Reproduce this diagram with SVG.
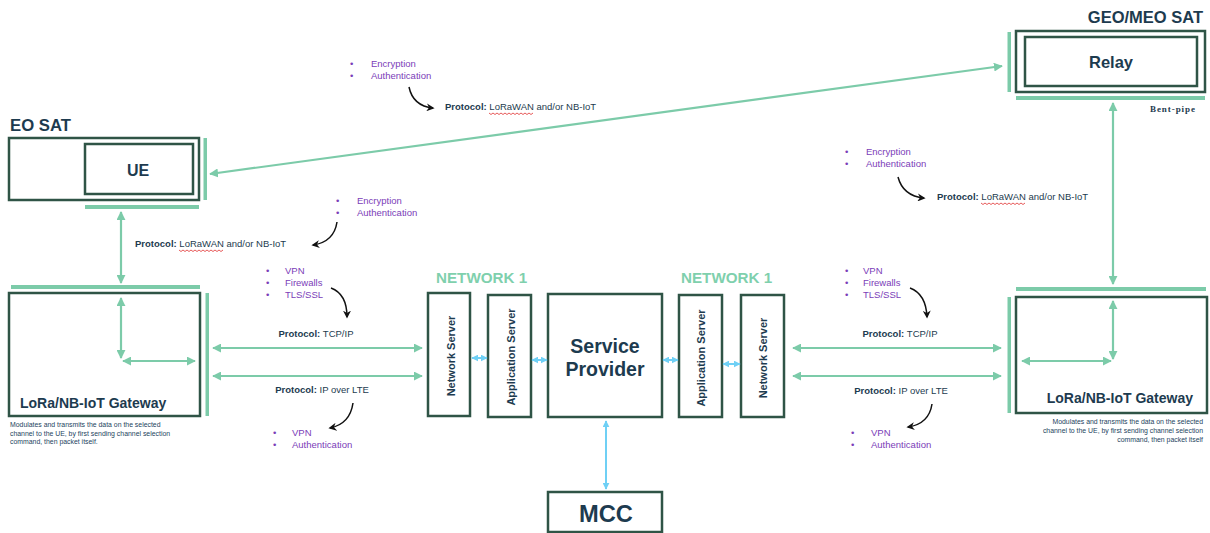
<svg xmlns="http://www.w3.org/2000/svg" width="1210" height="533" viewBox="0 0 1210 533">
  <defs>
    <style>
      .box { fill: #ffffff; stroke: #2f5446; stroke-width: 2.5; }
      .bar { fill: #7ccba9; }
      .title { font-family: "Liberation Sans", Arial, sans-serif; font-weight: bold; fill: #1d3b4f; }
      .net { font-family: "Liberation Sans", Arial, sans-serif; font-weight: bold; fill: #7fd0ad; font-size: 15.2px; }
      .lbl { font-family: "Liberation Sans", Arial, sans-serif; font-size: 9.5px; fill: #1d3b4f; }
      .lbl .b { font-weight: bold; }
      .bul { font-family: "Liberation Sans", Arial, sans-serif; font-size: 9.5px; fill: #7b3db8; }
      .desc { font-family: "Liberation Sans", Arial, sans-serif; font-size: 6.9px; fill: #24435e; }
      .vt { font-family: "Liberation Sans", Arial, sans-serif; font-weight: bold; font-size: 11px; fill: #1d3b4f; }
      .g { stroke: #7ccba9; stroke-width: 2.2; fill: none; marker-start: url(#ga); marker-end: url(#ga); }
      .bl { stroke: #6fd0f5; stroke-width: 2; fill: none; marker-start: url(#ba); marker-end: url(#ba); }
      .cv { stroke: #111111; stroke-width: 1.5; fill: none; marker-end: url(#ka); }
      .sq { stroke: #e03030; stroke-width: 0.8; fill: none; }
    </style>
    <marker id="ga" viewBox="0 0 10 10" refX="9" refY="5" markerWidth="9" markerHeight="9" markerUnits="userSpaceOnUse" orient="auto-start-reverse">
      <path d="M0,0 L10,5 L0,10 Z" fill="#7ccba9"/>
    </marker>
    <marker id="ba" viewBox="0 0 10 10" refX="9" refY="5" markerWidth="7" markerHeight="7" markerUnits="userSpaceOnUse" orient="auto-start-reverse">
      <path d="M0,0 L10,5 L0,10 Z" fill="#6fd0f5"/>
    </marker>
    <marker id="ka" viewBox="0 0 10 10" refX="8" refY="5" markerWidth="8" markerHeight="8" markerUnits="userSpaceOnUse" orient="auto">
      <path d="M0,0 L10,5 L0,10 L3,5 Z" fill="#111111"/>
    </marker>
  </defs>

  <rect width="1210" height="533" fill="#ffffff"/>

  <!-- EO satellite carrying the UE -->
  <g id="eo-sat">
    <text class="title" x="10" y="131" font-size="16.7">EO SAT</text>
    <rect class="box" x="9" y="138" width="190" height="62"/>
    <rect class="bar" x="203.5" y="138" width="3.5" height="62"/>
    <rect class="bar" x="85" y="205" width="114" height="4"/>
  </g>
  <g id="ue">
    <rect class="box" x="85" y="144" width="108" height="50"/>
    <text class="title" x="138" y="176" font-size="16" text-anchor="middle">UE</text>
  </g>

  <!-- GEO/MEO relay satellite -->
  <g id="relay">
    <text class="title" x="1203" y="23" font-size="16.5" text-anchor="end">GEO/MEO SAT</text>
    <rect class="box" x="1016" y="31" width="189" height="61"/>
    <rect class="box" x="1025" y="37" width="172" height="49"/>
    <text class="title" x="1111" y="68" font-size="16.5" text-anchor="middle">Relay</text>
    <rect class="bar" x="1007.5" y="32" width="3.5" height="60"/>
    <rect class="bar" x="1016" y="96" width="189" height="4"/>
    <text x="1150" y="112" font-family="'Liberation Serif', 'Times New Roman', serif" font-weight="bold" font-size="9" fill="#1d3b4f" textLength="45">Bent-pipe</text>
  </g>

  <!-- Left gateway -->
  <g id="gateway-left">
    <rect class="bar" x="11" y="285" width="189" height="4"/>
    <rect class="box" x="9" y="293" width="191" height="123"/>
    <rect class="bar" x="205.5" y="293" width="3.5" height="123"/>
    <text class="title" x="20" y="408" font-size="14">LoRa/NB-IoT Gateway</text>
    <text class="desc" x="10" y="427">Modulates and transmits the data on the selected</text>
    <text class="desc" x="10" y="436">channel to the UE, by first sending channel selection</text>
    <text class="desc" x="10" y="444">command, then packet itself.</text>
  </g>

  <!-- Right gateway -->
  <g id="gateway-right">
    <rect class="bar" x="1016" y="287" width="190" height="4"/>
    <rect class="box" x="1016" y="297" width="191" height="116"/>
    <rect class="bar" x="1007.5" y="297" width="3.5" height="116"/>
    <text class="title" x="1193" y="403" font-size="14" text-anchor="end">LoRa/NB-IoT Gateway</text>
    <text class="desc" x="1203" y="424" text-anchor="end">Modulates and transmits the data on the selected</text>
    <text class="desc" x="1203" y="433" text-anchor="end">channel to the UE, by first sending channel selection</text>
    <text class="desc" x="1203" y="442" text-anchor="end">command, then packet itself</text>
  </g>

  <!-- Core network -->
  <text class="net" x="436" y="283">NETWORK 1</text>
  <text class="net" x="681" y="283">NETWORK 1</text>

  <g id="network-server-left">
    <rect class="box" x="428" y="293" width="42" height="123"/>
    <text class="vt" transform="translate(451,356) rotate(-90)" x="0" y="4" text-anchor="middle">Network Server</text>
  </g>
  <g id="app-server-left">
    <rect class="box" x="488" y="295" width="43" height="122"/>
    <text class="vt" transform="translate(511,357) rotate(-90)" x="0" y="4" text-anchor="middle">Application Server</text>
  </g>
  <g id="service-provider">
    <rect class="box" x="548" y="294" width="114" height="123"/>
    <text class="title" x="605" y="353" font-size="19.5" text-anchor="middle">Service</text>
    <text class="title" x="605" y="376" font-size="19.5" text-anchor="middle">Provider</text>
  </g>
  <g id="app-server-right">
    <rect class="box" x="679" y="295" width="43" height="122"/>
    <text class="vt" transform="translate(701,358) rotate(-90)" x="0" y="4" text-anchor="middle">Application Server</text>
  </g>
  <g id="network-server-right">
    <rect class="box" x="741" y="295" width="43" height="122"/>
    <text class="vt" transform="translate(763,358) rotate(-90)" x="0" y="4" text-anchor="middle">Network Server</text>
  </g>
  <g id="mcc">
    <rect class="box" x="548" y="492" width="114" height="40"/>
    <text class="title" x="606" y="522" font-size="23.7" text-anchor="middle">MCC</text>
  </g>

  <!-- Connectors -->
  <g id="connectors">
    <line class="g" x1="1002" y1="66" x2="210" y2="174"/>
    <line class="g" x1="121" y1="212" x2="121" y2="283"/>
    <line class="g" x1="1113" y1="103" x2="1113" y2="284"/>
    <!-- in-gateway routing -->
    <line class="g" x1="121" y1="298" x2="121" y2="358"/>
    <line class="g" x1="123" y1="361" x2="195" y2="361"/>
    <line class="g" x1="1113" y1="301" x2="1113" y2="359"/>
    <line class="g" x1="1022" y1="361" x2="1111" y2="361"/>
    <!-- backhaul links -->
    <line class="g" x1="213" y1="348" x2="422" y2="348"/>
    <line class="g" x1="213" y1="376" x2="422" y2="376"/>
    <line class="g" x1="793" y1="348" x2="1001" y2="348"/>
    <line class="g" x1="793" y1="376" x2="1001" y2="376"/>
    <!-- server chain -->
    <line class="bl" x1="472" y1="358" x2="487" y2="358"/>
    <line class="bl" x1="532" y1="360" x2="547" y2="360"/>
    <line class="bl" x1="663" y1="360" x2="678" y2="360"/>
    <line class="bl" x1="723" y1="364" x2="740" y2="364"/>
    <line class="bl" x1="606" y1="421" x2="606" y2="489"/>
    <!-- annotation pointers -->
    <path class="cv" d="M409,87 Q413,106 433,108"/>
    <path class="cv" d="M898,177 Q903,196 924,198"/>
    <path class="cv" d="M337,222 Q334,242 313,245"/>
    <path class="cv" d="M331,288 Q347,294 347,317"/>
    <path class="cv" d="M910,288 Q926,294 927,317"/>
    <path class="cv" d="M353,403 Q350,424 330,428"/>
    <path class="cv" d="M932,404 Q929,424 908,427"/>
  </g>

  <!-- Annotations -->
  <g id="annotations">
    <text class="bul" x="350" y="67">•</text><text class="bul" x="371" y="67">Encryption</text>
    <text class="bul" x="350" y="79">•</text><text class="bul" x="371" y="79">Authentication</text>
    <text class="lbl" x="445" y="110"><tspan class="b">Protocol: </tspan>LoRaWAN and/or NB-IoT</text>
    <path class="sq" d="M489,113 l2,1.5 l2,-1.5 l2,1.5 l2,-1.5 l2,1.5 l2,-1.5 l2,1.5 l2,-1.5 l2,1.5 l2,-1.5 l2,1.5 l2,-1.5 l2,1.5 l2,-1.5 l2,1.5 l2,-1.5 l2,1.5 l2,-1.5 l2,1.5 l2,-1.5 l2,1.5 l2,-1.5"/>

    <text class="bul" x="845" y="155">•</text><text class="bul" x="866" y="155">Encryption</text>
    <text class="bul" x="845" y="167">•</text><text class="bul" x="866" y="167">Authentication</text>
    <text class="lbl" x="937" y="200"><tspan class="b">Protocol: </tspan>LoRaWAN and/or NB-IoT</text>
    <path class="sq" d="M981,203 l2,1.5 l2,-1.5 l2,1.5 l2,-1.5 l2,1.5 l2,-1.5 l2,1.5 l2,-1.5 l2,1.5 l2,-1.5 l2,1.5 l2,-1.5 l2,1.5 l2,-1.5 l2,1.5 l2,-1.5 l2,1.5 l2,-1.5 l2,1.5 l2,-1.5 l2,1.5 l2,-1.5"/>

    <text class="bul" x="336" y="204">•</text><text class="bul" x="357" y="204">Encryption</text>
    <text class="bul" x="336" y="216">•</text><text class="bul" x="357" y="216">Authentication</text>
    <text class="lbl" x="135" y="247"><tspan class="b">Protocol: </tspan>LoRaWAN and/or NB-IoT</text>
    <path class="sq" d="M179,250 l2,1.5 l2,-1.5 l2,1.5 l2,-1.5 l2,1.5 l2,-1.5 l2,1.5 l2,-1.5 l2,1.5 l2,-1.5 l2,1.5 l2,-1.5 l2,1.5 l2,-1.5 l2,1.5 l2,-1.5 l2,1.5 l2,-1.5 l2,1.5 l2,-1.5 l2,1.5 l2,-1.5"/>

    <text class="bul" x="266" y="274">•</text><text class="bul" x="285" y="274">VPN</text>
    <text class="bul" x="266" y="286">•</text><text class="bul" x="285" y="286">Firewalls</text>
    <text class="bul" x="266" y="298">•</text><text class="bul" x="285" y="298">TLS/SSL</text>

    <text class="bul" x="845" y="274">•</text><text class="bul" x="863" y="274">VPN</text>
    <text class="bul" x="845" y="286">•</text><text class="bul" x="863" y="286">Firewalls</text>
    <text class="bul" x="845" y="298">•</text><text class="bul" x="863" y="298">TLS/SSL</text>

    <text class="lbl" x="316" y="337" text-anchor="middle"><tspan class="b">Protocol: </tspan>TCP/IP</text>
    <text class="lbl" x="322" y="393" text-anchor="middle"><tspan class="b">Protocol: </tspan>IP over LTE</text>
    <text class="lbl" x="900" y="337" text-anchor="middle"><tspan class="b">Protocol: </tspan>TCP/IP</text>
    <text class="lbl" x="901" y="394" text-anchor="middle"><tspan class="b">Protocol: </tspan>IP over LTE</text>

    <text class="bul" x="273" y="436">•</text><text class="bul" x="292" y="436">VPN</text>
    <text class="bul" x="273" y="448">•</text><text class="bul" x="292" y="448">Authentication</text>
    <text class="bul" x="851" y="436">•</text><text class="bul" x="871" y="436">VPN</text>
    <text class="bul" x="851" y="448">•</text><text class="bul" x="871" y="448">Authentication</text>
  </g>
</svg>
